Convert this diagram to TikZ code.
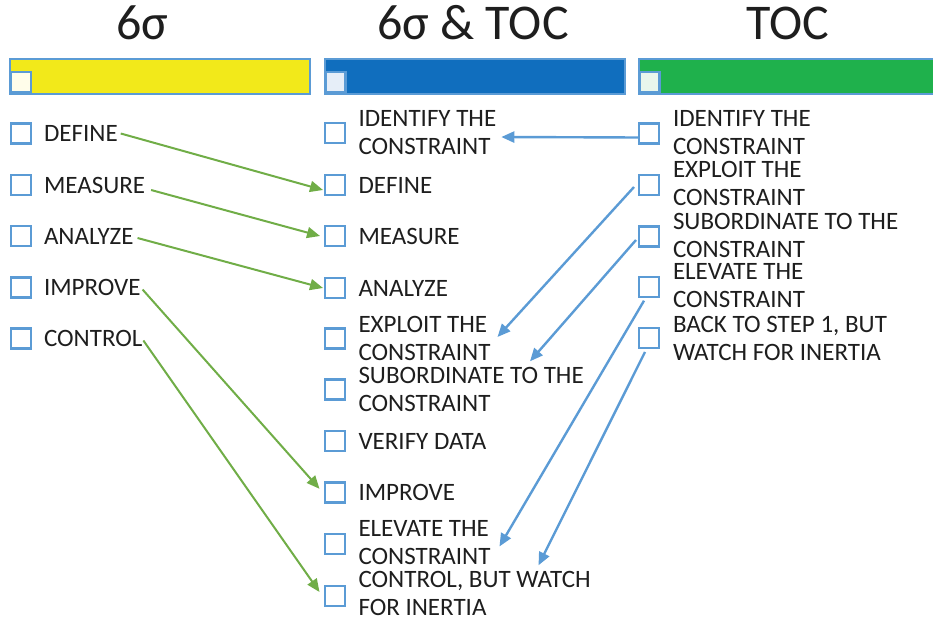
\documentclass[tikz,border=0pt]{standalone}
\usepackage{fontspec}
\setmainfont{Carlito}
\usetikzlibrary{arrows.meta,calc}

\definecolor{cbox}{HTML}{5B9BD5}
\definecolor{gline}{HTML}{70AD47}
\definecolor{bline}{HTML}{5B9BD5}
\definecolor{txt}{HTML}{1E1E1E}
\definecolor{barY}{HTML}{F2E91A}
\definecolor{barB}{HTML}{106EBE}
\definecolor{barG}{HTML}{1FB14C}
\definecolor{sqY}{HTML}{FFFDEA}
\definecolor{sqB}{HTML}{E6EEF8}
\definecolor{sqG}{HTML}{E9F6EC}

\tikzset{
  chk/.style={draw=cbox, line width=2.2pt, fill=white, minimum size=20pt, inner sep=0pt, outer sep=0pt},
  lbl/.style={anchor=west, inner sep=0pt, outer sep=0pt, align=left, text=txt,
              font=\fontsize{25}{28}\selectfont},
  ttl/.style={anchor=base, inner sep=0pt, text=txt, font=\fontsize{50}{56}\selectfont},
  bar/.style={draw=cbox, line width=2pt, anchor=north west, minimum height=35pt, inner sep=0pt},
  garr/.style={draw=gline, line width=2pt, -{Triangle[length=13pt,width=11pt]}},
  barr/.style={draw=bline, line width=2.4pt, -{Triangle[length=13pt,width=11pt]}}
}

\begin{document}
\begin{tikzpicture}[x=1pt,y=-1pt]
\useasboundingbox (0,0) rectangle (933,618);

% column titles
\node[ttl] (T1) at (142,40) {6σ};
\node[ttl] (T2) at (473,40) {6σ \& TOC};
\node[ttl] (T3) at (788,40) {TOC};

% header bars with their corner squares
\node[bar, fill=barY, minimum width=300pt] (B1) at (9,58) {};
\node[bar, fill=barB, minimum width=300pt] (B2) at (323.5,58) {};
\node[bar, fill=barG, minimum width=310pt] (B3) at (637.5,58) {};
\node[chk, fill=sqY] (S1) at (21,82) {};
\node[chk, fill=sqB] (S2) at (335.5,82) {};
\node[chk, fill=sqG] (S3) at (649.5,82) {};

% Six Sigma column
\foreach \i/\y/\t in {1/133.5/DEFINE, 2/185/MEASURE, 3/236/ANALYZE, 4/287.5/IMPROVE, 5/338.5/CONTROL}{
  \node[chk] (L\i) at (21,\y) {};
  \node[lbl] (Lt\i) at (44,\y) {\t};
}

% combined column (box row, text row, label)
\foreach \i/\y/\ty/\t in {
  1/133/133/{IDENTIFY THE\\CONSTRAINT},
  2/185/185/{DEFINE},
  3/236/236/{MEASURE},
  4/288/288/{ANALYZE},
  5/338.5/338/{EXPLOIT THE\\CONSTRAINT},
  6/389.5/389/{SUBORDINATE TO THE\\CONSTRAINT},
  7/441/441/{VERIFY DATA},
  8/492.5/492.5/{IMPROVE},
  9/544/542.5/{ELEVATE THE\\CONSTRAINT},
  10/596/593.5/{CONTROL, BUT WATCH\\FOR INERTIA}}{
  \node[chk] (M\i) at (335,\y) {};
  \node[lbl] (Mt\i) at (358.5,\ty) {\t};
}

% Theory of Constraints column
\foreach \i/\y/\ty/\t in {
  1/133.5/133/{IDENTIFY THE\\CONSTRAINT},
  2/185/183.5/{EXPLOIT THE\\CONSTRAINT},
  3/236.5/235/{SUBORDINATE TO THE\\CONSTRAINT},
  4/287/286/{ELEVATE THE\\CONSTRAINT},
  5/338/338/{BACK TO STEP 1, BUT\\WATCH FOR INERTIA}}{
  \node[chk] (R\i) at (649,\y) {};
  \node[lbl] (Rt\i) at (673,\ty) {\t};
}

% Six Sigma steps into the combined sequence
\draw[garr] ($(Lt1.east)+(3,0)$) -- ($(M2.west)+(-2,5)$);
\draw[garr] ($(Lt2.east)+(6,5)$) -- ($(M3.west)+(-5,0)$);
\draw[garr] ($(Lt3.east)+(4,2)$) -- ($(M4.west)+(-2,0)$);
\draw[garr] ($(Lt4.east)+(2,2)$) -- ($(M8.west)+(-5.5,-3.7)$);
\draw[garr] ($(Lt5.east)+(1,2)$) -- ($(M10.west)+(-5.5,-4)$);

% TOC steps into the combined sequence
\draw[barr] ($(R1.west)+(0,4)$) -- ($(Mt1.east)+(5,4)$);
\draw[barr] ($(R2.west)+(-5,2)$) -- ($(Mt5.east)+(7,-1)$);
\draw[barr] ($(R3.west)+(-3,3.5)$) -- ($(Mt6.north west)+(171.5,-5.5)$);
\draw[barr] ($(R4.south)+(-5,3.7)$) -- ($(Mt9.east)+(9,4)$);
\draw[barr] ($(R5.south)+(-4,4)$) -- ($(Mt10.north west)+(180,-6)$);
\end{tikzpicture}
\end{document}
